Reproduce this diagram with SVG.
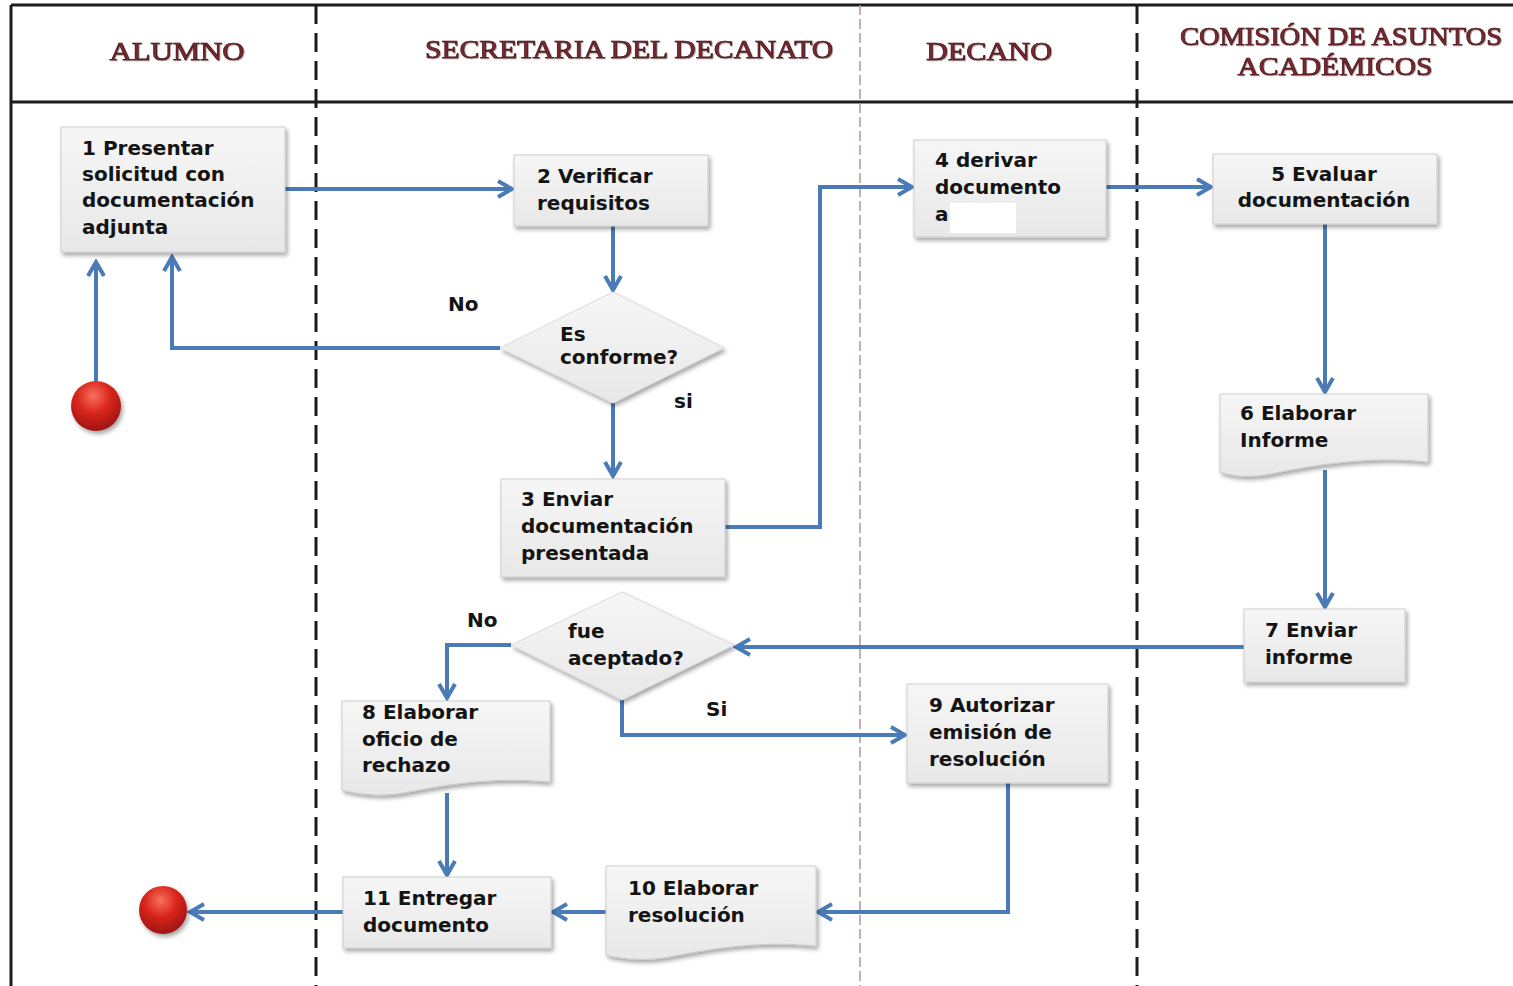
<svg xmlns="http://www.w3.org/2000/svg" width="1513" height="986" viewBox="0 0 1513 986">
  <style>
    .frame { stroke: #1c1c1c; stroke-width: 3; fill: none; }
    .lane { stroke: #1c1c1c; stroke-width: 3; stroke-dasharray: 19 9; fill: none; }
    .lane-thin { stroke: #b89494; stroke-width: 1.5; stroke-dasharray: 10 4; fill: none; }
    .head { font-family: "Liberation Serif", "Times New Roman", serif; font-size: 26px; font-weight: normal; fill: #7a2a33; stroke: #4a1418; stroke-width: 0.7; text-anchor: middle; }
    .box { fill: url(#boxFill); stroke: #cdcdcd; stroke-width: 1; filter: url(#shadow); }
    .dia { fill: url(#boxFill); stroke: #dadada; stroke-width: 1; filter: url(#shadow); }
    .t { font-family: "DejaVu Sans", "Liberation Sans", sans-serif; font-size: 20px; font-weight: bold; fill: #141414; }
    .c { text-anchor: middle; }
    .conn { stroke: #4a7bb7; stroke-width: 4; fill: none; stroke-linejoin: miter; marker-end: url(#arrow); }
  </style>
  <defs>
    <linearGradient id="boxFill" x1="0" y1="0" x2="0" y2="1">
      <stop offset="0" stop-color="#f6f6f6"/>
      <stop offset="1" stop-color="#e8e8e8"/>
    </linearGradient>
    <radialGradient id="ball" cx="0.45" cy="0.3" r="0.75">
      <stop offset="0" stop-color="#f8705f"/>
      <stop offset="0.45" stop-color="#d9261b"/>
      <stop offset="1" stop-color="#951210"/>
    </radialGradient>
    <filter id="shadow" x="-10%" y="-10%" width="125%" height="130%">
      <feDropShadow dx="2" dy="3" stdDeviation="2" flood-color="#000" flood-opacity="0.35"/>
    </filter>
    <filter id="headShadow" x="-5%" y="-20%" width="110%" height="150%">
      <feDropShadow dx="0.8" dy="0.8" stdDeviation="0.6" flood-color="#3a1010" flood-opacity="0.5"/>
    </filter>
    <marker id="arrow" viewBox="0 0 20 20" refX="17" refY="10" markerWidth="20" markerHeight="20" markerUnits="userSpaceOnUse" orient="auto">
      <path d="M3,2 L17,10 L3,18" fill="none" stroke="#4a7bb7" stroke-width="4" stroke-linejoin="miter"/>
    </marker>
  </defs>

  <rect width="1513" height="986" fill="#ffffff"/>

  <!-- swimlane frame -->
  <g id="frame">
    <line class="frame" x1="11" y1="5" x2="1513" y2="5"/>
    <line class="frame" x1="11" y1="5" x2="11" y2="986"/>
    <line class="frame" x1="11" y1="102" x2="1513" y2="102"/>
    <line class="lane" x1="316" y1="5" x2="316" y2="986"/>
    <line class="lane-thin" x1="860" y1="5" x2="860" y2="986"/>
    <line class="lane" x1="1137" y1="5" x2="1137" y2="986"/>
  </g>

  <!-- lane headers -->
  <g id="headers" filter="url(#headShadow)">
    <text class="head" x="177" y="60" textLength="135" lengthAdjust="spacingAndGlyphs">ALUMNO</text>
    <text class="head" x="629" y="58" textLength="408" lengthAdjust="spacingAndGlyphs">SECRETARIA DEL DECANATO</text>
    <text class="head" x="989" y="60" textLength="126" lengthAdjust="spacingAndGlyphs">DECANO</text>
    <text class="head" x="1341" y="45" textLength="322" lengthAdjust="spacingAndGlyphs">COMISIÓN DE ASUNTOS</text>
    <text class="head" x="1335" y="75" textLength="195" lengthAdjust="spacingAndGlyphs">ACADÉMICOS</text>
  </g>

  <!-- connectors -->
  <g id="connectors">
    <path class="conn" d="M96,381 V262"/>
    <path class="conn" d="M285,189 H512"/>
    <path class="conn" d="M613,226 V290"/>
    <path class="conn" d="M500,348 H172 V257"/>
    <path class="conn" d="M613,403 V476"/>
    <path class="conn" d="M725,527 H820 V187 H912"/>
    <path class="conn" d="M1106,187 H1211"/>
    <path class="conn" d="M1325,224 V392"/>
    <path class="conn" d="M1325,470 V607"/>
    <path class="conn" d="M1244,647 H736"/>
    <path class="conn" d="M511,645 H447 V698"/>
    <path class="conn" d="M622,700 V735 H905"/>
    <path class="conn" d="M447,793 V875"/>
    <path class="conn" d="M1008,783 V912 H818"/>
    <path class="conn" d="M606,912 H553"/>
    <path class="conn" d="M343,912 H190"/>
  </g>

  <g id="labels">
    <text class="t" x="448" y="311">No</text>
    <text class="t" x="674" y="408">si</text>
    <text class="t" x="467" y="627">No</text>
    <text class="t" x="706" y="716">Si</text>
  </g>

  <g id="start">
    <circle cx="96" cy="406" r="25" fill="url(#ball)" filter="url(#shadow)"/>
  </g>
  <g id="end">
    <circle cx="163" cy="910" r="24" fill="url(#ball)" filter="url(#shadow)"/>
  </g>

  <g id="n1">
    <rect class="box" x="61" y="127" width="224" height="125"/>
    <text class="t" x="82" y="155">1 Presentar</text>
    <text class="t" x="82" y="181">solicitud con</text>
    <text class="t" x="82" y="207">documentación</text>
    <text class="t" x="82" y="234">adjunta</text>
  </g>

  <g id="n2">
    <rect class="box" x="514" y="155" width="194" height="71"/>
    <text class="t" x="537" y="183">2 Verificar</text>
    <text class="t" x="537" y="210">requisitos</text>
  </g>

  <g id="d1">
    <polygon class="dia" points="500,348 613,292 724,348 613,403"/>
    <text class="t" x="560" y="341">Es</text>
    <text class="t" x="560" y="364">conforme?</text>
  </g>

  <g id="n3">
    <rect class="box" x="501" y="479" width="224" height="98"/>
    <text class="t" x="521" y="506">3 Enviar</text>
    <text class="t" x="521" y="533">documentación</text>
    <text class="t" x="521" y="560">presentada</text>
  </g>

  <g id="n4">
    <rect class="box" x="914" y="140" width="192" height="97"/>
    <text class="t" x="935" y="167">4 derivar</text>
    <text class="t" x="935" y="194">documento</text>
    <text class="t" x="935" y="221">a</text>
    <rect x="950" y="203" width="66" height="30" fill="#ffffff"/>
  </g>

  <g id="n5">
    <rect class="box" x="1213" y="154" width="224" height="70"/>
    <text class="t c" x="1324" y="181">5 Evaluar</text>
    <text class="t c" x="1324" y="207">documentación</text>
  </g>

  <g id="n6">
    <path class="box" d="M1220,394 H1428 V462 C1370,455 1310,466 1275,473 C1252,478 1236,477 1220,472 Z"/>
    <text class="t" x="1240" y="420">6 Elaborar</text>
    <text class="t" x="1240" y="447">Informe</text>
  </g>

  <g id="n7">
    <rect class="box" x="1244" y="609" width="161" height="73"/>
    <text class="t" x="1265" y="637">7 Enviar</text>
    <text class="t" x="1265" y="664">informe</text>
  </g>

  <g id="d2">
    <polygon class="dia" points="511,645 622,592 734,645 622,700"/>
    <text class="t" x="568" y="638">fue</text>
    <text class="t" x="568" y="665">aceptado?</text>
  </g>

  <g id="n8">
    <path class="box" d="M342,701 H550 V782 C490,776 440,786 408,792 C384,797 362,795 342,790 Z"/>
    <text class="t" x="362" y="719">8 Elaborar</text>
    <text class="t" x="362" y="746">oficio de</text>
    <text class="t" x="362" y="772">rechazo</text>
  </g>

  <g id="n9">
    <rect class="box" x="907" y="684" width="201" height="99"/>
    <text class="t" x="929" y="712">9 Autorizar</text>
    <text class="t" x="929" y="739">emisión de</text>
    <text class="t" x="929" y="766">resolución</text>
  </g>

  <g id="n10">
    <path class="box" d="M606,866 H816 V946 C756,940 706,950 674,956 C650,961 626,960 606,955 Z"/>
    <text class="t" x="628" y="895">10 Elaborar</text>
    <text class="t" x="628" y="922">resolución</text>
  </g>

  <g id="n11">
    <rect class="box" x="343" y="877" width="208" height="71"/>
    <text class="t" x="363" y="905">11 Entregar</text>
    <text class="t" x="363" y="932">documento</text>
  </g>
</svg>
